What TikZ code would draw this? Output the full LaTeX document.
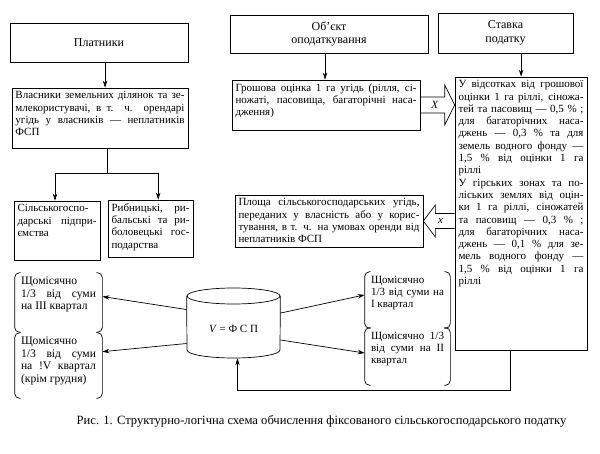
\documentclass[tikz,border=0pt]{standalone}
\usepackage{fontspec}
\setmainfont{Liberation Serif}
\usetikzlibrary{arrows.meta,calc}
\newcommand\jline[1]{\hbox to\linewidth{#1}}
\newcommand\lline[1]{\hbox{#1}}
\newcommand\bt[3]{\parbox[c][#2][t]{#1}{\fontsize{11}{12.3}\selectfont #3}}
\newcommand\btl[3]{\parbox[c][#2][t]{#1}{\fontsize{11.6}{12.6}\selectfont #3}}
\begin{document}
\begin{tikzpicture}[x=1pt,y=-1pt,line width=0.7pt,
  box/.style={draw,rectangle,inner sep=3.5pt},
  brk/.style={rectangle,inner xsep=6pt,inner ysep=4pt},
  ttl/.style={draw,rectangle,align=center,font=\fontsize{12}{13.5}\selectfont},
  arr/.style={-{Stealth[length=7pt,width=4.5pt]}}]
\fill[white] (0,0) rectangle (600,454);
\useasboundingbox (0,0) rectangle (600,454);

% titles
\node[ttl,minimum width=178pt,minimum height=39pt] (plat) at (99,42.5) {Платники};
\node[ttl,minimum width=198pt,minimum height=38pt] (obj) at (329,34) {Об’єкт\\оподаткування};
\node[ttl,minimum width=135pt,minimum height=40pt] (stav) at (505.5,33) {Ставка\\податку};

% boxes
\node[box] (vlas) at (100,118) {\bt{169pt}{53pt}{%
\jline{Власники земельних ділянок та зе-}
\jline{млекористувачі, в т. ч. орендарі}
\jline{угідь у власників — неплатників}
\lline{ФСП}}};
\node[box] (sg) at (57,230.5) {\bt{79pt}{52pt}{%
\jline{Сільськогоспо-}
\jline{дарські підпри-}
\lline{ємства}}};
\node[box] (ryb) at (150.5,228.5) {\bt{78pt}{50pt}{%
\jline{Рибницькі, ри-}
\jline{бальські та ри-}
\jline{боловецькі гос-}
\lline{подарства}}};
\node[box] (gr) at (326,105) {\bt{181pt}{43pt}{%
\jline{Грошова оцінка 1 га угідь (рілля, сі-}
\jline{ножаті, пасовища, багаторічні наса-}
\lline{дження)}}};
\node[box] (rate) at (521,213.5) {\bt{125pt}{266pt}{%
\jline{У відсотках від грошової}
\jline{оцінки 1 га ріллі, сіножа-}
\jline{тей та пасовищ — 0,5 \% ;}
\jline{для багаторічних наса-}
\jline{джень — 0,3 \% та для}
\jline{земель водного фонду —}
\jline{1,5 \% від оцінки 1 га}
\lline{ріллі}
\jline{У гірських зонах та по-}
\jline{ліських землях від оцін-}
\jline{ки 1 га ріллі, сіножатей}
\jline{та пасовищ — 0,3 \% ;}
\jline{для багаторічних наса-}
\jline{джень — 0,1 \% для зе-}
\jline{мель водного фонду —}
\jline{1,5 \% від оцінки 1 га}
\lline{ріллі}}};
\node[box] (pl) at (329,221) {\bt{181pt}{45pt}{%
\jline{Площа сільськогосподарських угідь,}
\jline{переданих у власність або у корис-}
\jline{тування, в т. ч. на умовах оренди від}
\lline{неплатників ФСП}}};

% bracket boxes
\node[brk] (b1) at (58.5,302.5) {\btl{75pt}{51pt}{%
\lline{Щомісячно}
\jline{1/3 від суми}
\lline{на III квартал}}};
\node[brk] (b2) at (58.5,365.5) {\btl{75pt}{57pt}{%
\lline{Щомісячно}
\jline{1/3 від суми}
\jline{на !V квартал}
\lline{(крім грудня)}}};
\node[brk] (b3) at (407.5,300) {\bt{73pt}{48pt}{%
\lline{Щомісячно}
\jline{1/3 від суми на}
\lline{I квартал}}};
\node[brk] (b4) at (407.5,356.5) {\bt{73pt}{49pt}{%
\jline{Щомісячно 1/3}
\jline{від суми на II}
\lline{квартал}}};
\foreach \n in {b1,b2,b3,b4}{
  \draw[rounded corners=5pt] ($(\n.north west)+(6,0)$) -- (\n.north west) -- (\n.south west) -- ($(\n.south west)+(6,0)$);
  \draw[rounded corners=5pt] ($(\n.north east)+(-6,0)$) -- (\n.north east) -- (\n.south east) -- ($(\n.south east)+(-6,0)$);
}

% cylinder
\node[minimum width=93pt,minimum height=70pt,inner sep=0pt] (cyl) at (233.5,323) {};
\draw (233.5,296) ellipse [x radius=46.5pt,y radius=8pt];
\draw (cyl.west |- 0,296) -- (187,350) arc[start angle=180,end angle=360,x radius=46.5pt,y radius=8pt] -- (cyl.east |- 0,296);
\node[font=\fontsize{11}{13}\selectfont] (cyltxt) at (233.5,329) {\textit{V} = Ф С П};

% connectors
\coordinate (pa) at ($(plat.south west)!0.534!(plat.south east)$);
\draw[arr] (pa) -- (pa |- vlas.north);
\coordinate (vs) at ($(vlas.south west)!0.54!(vlas.south east)$);
\coordinate (split) at ($(vs)+(0,25)$);
\draw (vs) -- (split);
\draw[arr] (split) -| ($(sg.north west)!0.477!(sg.north east)$);
\draw[arr] (split) -| ($(ryb.north west)!0.59!(ryb.north east)$);
\coordinate (oa) at ($(obj.south west)!0.48!(obj.south east)$);
\draw[arr] (oa) -- (oa |- gr.north);
\coordinate (sa) at ($(stav.south west)!0.615!(stav.south east)$);
\draw[arr] (sa) -- (sa |- rate.north);

% block arrow X
\coordinate (xt) at (gr.east);
\coordinate (xh) at (rate.west |- gr.east);
\draw ($(xt)+(0,-8)$) -- ($(xh)+(-10,-8)$) -- ($(xh)+(-10,-20)$) -- (xh) -- ($(xh)+(-10,20)$) -- ($(xh)+(-10,8)$) -- ($(xt)+(0,8)$);
\node[font=\fontsize{11}{12}\selectfont\itshape] (xlab) at ($(xt)!0.42!(xh)$) {X};

% block arrow x
\coordinate (st) at (rate.west |- pl.east);
\coordinate (sh) at (pl.east);
\draw ($(st)+(0,-7.5)$) -- ($(sh)+(12,-7.5)$) -- ($(sh)+(12,-16)$) -- (sh) -- ($(sh)+(12,16)$) -- ($(sh)+(12,7.5)$) -- ($(st)+(0,7.5)$);
\node[font=\fontsize{11}{12}\selectfont\itshape] (xlab2) at ($(sh)!0.55!(st)$) {x};

% cylinder arrows
\draw[arr] ($(cyl.north west)!0.31!(cyl.south west)$) -- ($(b1.north east)!0.4!(b1.south east)$);
\draw[arr] ($(cyl.north west)!0.79!(cyl.south west)$) -- ($(b2.north east)!0.29!(b2.south east)$);
\draw[arr] ($(cyl.north east)!0.36!(cyl.south east)$) -- ($(b3.north west)!0.41!(b3.south west)$);
\draw[arr] ($(cyl.north east)!0.74!(cyl.south east)$) -- ($(b4.north west)!0.44!(b4.south west)$);

% feedback
\coordinate (fb) at ($(rate.south west)!0.42!(rate.south east)$);
\draw[arr] (fb) -- ++(0,40) -| ($(cyl.south)+(4,0)$);

% caption
\node[font=\fontsize{12.6}{14}\selectfont] (cap) at (321.5,421) {Рис. 1. Структурно-логічна схема обчислення фіксованого сільськогосподарського податку};
\end{tikzpicture}
\end{document}
